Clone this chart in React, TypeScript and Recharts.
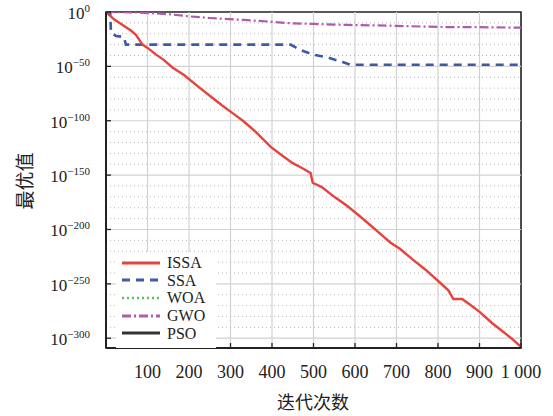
import React from 'react';
import { LineChart, Line, XAxis, YAxis, ReferenceLine, ReferenceArea } from 'recharts';

// iteration ticks and decade exponents (log10 of best value)
const ITER_TICKS = [100, 200, 300, 400, 500, 600, 700, 800, 900, 1000];
const EXP_TICKS = [0, -50, -100, -150, -200, -250, -300];
const EXP_MINOR = [
  -10, -20, -30, -40, -60, -70, -80, -90, -110, -120, -130, -140, -160, -170, -180, -190,
  -210, -220, -230, -240, -260, -270, -280, -290,
];

// [iteration, log10(best value)]
const ISSA: [number, number][] = [
  [0, 0], [20, -7], [40, -12], [60, -17], [72, -21], [88, -30], [100, -33], [120, -39],
  [139, -44], [160, -51], [188, -58], [220, -68], [250, -77], [280, -86], [305, -93],
  [330, -100], [360, -110], [397, -124], [421, -131], [450, -139], [470, -143], [493, -148],
  [498, -157], [520, -161], [550, -170], [580, -178], [606, -186], [640, -197], [670, -207],
  [685, -212], [709, -218], [740, -228], [770, -237], [805, -249], [825, -256], [837, -264],
  [858, -264], [880, -270], [901, -276], [930, -286], [960, -295], [980, -301], [1000, -308],
];
const SSA: [number, number][] = [
  [0, 0], [10, 0], [12, -19], [24, -22], [43, -23], [48, -30], [445, -30], [469, -35],
  [498, -39], [536, -42], [570, -46], [589, -48.5], [1000, -48.5],
];
const GWO: [number, number][] = [
  [0, 0], [84, -0.5], [150, -2], [200, -4], [250, -5.5], [332, -7.3], [400, -9], [445, -10.4],
  [500, -11], [582, -11.9], [685, -12.6], [805, -13.8], [900, -14], [1000, -14.4],
];
// WOA and PSO show only in the legend; no curve is visible in the plot
const WOA: [number, number][] = [];
const PSO: [number, number][] = [];

const SERIES = [
  { name: 'ISSA', pts: ISSA, color: '#e5433c', dash: undefined, width: 2.4 },
  { name: 'SSA', pts: SSA, color: '#3d5aa8', dash: '8 6', width: 2.6 },
  { name: 'WOA', pts: WOA, color: '#5cbf5c', dash: '2 3', width: 2 },
  { name: 'GWO', pts: GWO, color: '#b05aab', dash: '9 3 2 3', width: 2.2 },
  { name: 'PSO', pts: PSO, color: '#333333', dash: undefined, width: 2.4 },
];

const SERIF = '"Times New Roman", "Liberation Serif", Tinos, "Noto Serif", "DejaVu Serif", serif';
const CJK = '"Noto Sans CJK SC", sans-serif';

const YTick = ({ x, y, payload }: any) => (
  <g>
    <line x1={x} x2={x + 5} y1={y} y2={y} stroke="#222" strokeWidth={1.3} />
    <text x={x - 16} y={y + 7} textAnchor="end" style={{ fontFamily: SERIF }} fontSize={17} fill="#222">
      10
      <tspan dy={-7} fontSize={11}>
        {payload.value === 0 ? '0' : '\u2212' + Math.abs(payload.value)}
      </tspan>
    </text>
  </g>
);

const XTick = ({ x, y, payload }: any) => (
  <g>
    <line x1={x} x2={x} y1={y} y2={y - 5} stroke="#222" strokeWidth={1.3} />
    <text x={x} y={y + 30} textAnchor="middle" style={{ fontFamily: SERIF }} fontSize={18} fill="#222">
      {payload.value === 1000 ? '1 000' : payload.value}
    </text>
  </g>
);

export default function App() {
  return (
    <div style={{ position: 'absolute', left: 0, top: 0, width: 553, height: 416, background: '#fff' }}>
      <LineChart width={553} height={416} margin={{ top: 12, right: 32, bottom: 0, left: 0 }}>
        <XAxis
          type="number"
          dataKey="x"
          domain={[0, 1000]}
          ticks={ITER_TICKS}
          tick={<XTick />}
          tickLine={false}
          tickSize={0}
          tickMargin={0}
          height={68}
          axisLine={{ stroke: '#222', strokeWidth: 2 }}
          allowDataOverflow
        />
        <YAxis
          type="number"
          dataKey="y"
          domain={[-309, 0]}
          ticks={EXP_TICKS}
          tick={<YTick />}
          tickLine={false}
          tickSize={0}
          tickMargin={0}
          width={106}
          axisLine={{ stroke: '#222', strokeWidth: 2 }}
          allowDataOverflow
        />
        {ITER_TICKS.slice(0, -1).map((v) => (
          <ReferenceLine key={`vx-${v}`} x={v} stroke="#d2d2d2" strokeWidth={1.2} />
        ))}
        {EXP_MINOR.map((v) => (
          <ReferenceLine key={`my-${v}`} y={v} stroke="#b8b8b8" strokeDasharray="1 3" />
        ))}
        {EXP_TICKS.slice(1).map((v) => (
          <ReferenceLine key={`gy-${v}`} y={v} stroke="#d2d2d2" strokeWidth={1.2} />
        ))}
        <ReferenceArea x1={0} x2={1000} y1={-309} y2={0} fill="none" stroke="#222" strokeWidth={1.6} />
        {[...SERIES].reverse().map((s) => (
          <Line
            key={s.name}
            data={s.pts.map(([x, y]) => ({ x, y }))}
            dataKey="y"
            name={s.name}
            type="linear"
            stroke={s.color}
            strokeWidth={s.width}
            strokeDasharray={s.dash}
            dot={false}
            activeDot={false}
            isAnimationActive={false}
          />
        ))}
      </LineChart>

      {/* legend box, lower left inside the plot */}
      <div
        style={{
          position: 'absolute', left: 116, top: 252, width: 100, height: 94,
          background: '#fff', paddingTop: 2,
        }}
      >
        {SERIES.map((s) => (
          <div key={`lg-${s.name}`} style={{ display: 'flex', alignItems: 'center', height: 17.6 }}>
            <svg width={44} height={10} style={{ flex: 'none' }}>
              <line x1={6} x2={44} y1={5} y2={5} stroke={s.color} strokeWidth={s.width + 0.6} strokeDasharray={s.dash} />
            </svg>
            <span style={{ marginLeft: 7, fontFamily: SERIF, fontSize: 16, lineHeight: '15px', color: '#222' }}>
              {s.name}
            </span>
          </div>
        ))}
      </div>

      <div
        style={{
          position: 'absolute', left: 313, top: 401, transform: 'translate(-50%, -50%)',
          fontFamily: CJK, fontSize: 18, color: '#222', whiteSpace: 'nowrap',
        }}
      >
        迭代次数
      </div>
      <div
        style={{
          position: 'absolute', left: 23, top: 181, transform: 'translate(-50%, -50%) rotate(-90deg)',
          fontFamily: CJK, fontSize: 19, color: '#222', whiteSpace: 'nowrap',
        }}
      >
        最优值
      </div>
    </div>
  );
}
